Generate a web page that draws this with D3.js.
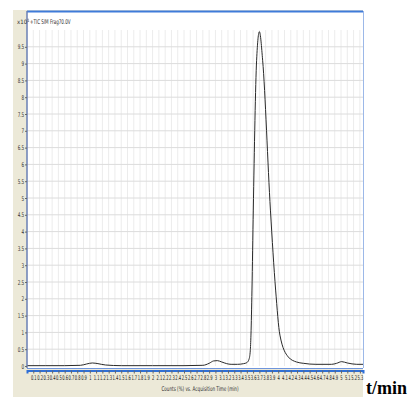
<!DOCTYPE html>
<html>
<head>
<meta charset="utf-8">
<script src="https://cdn.jsdelivr.net/npm/d3@7"></script>
<style>
  body { margin: 0; background: #fff; }
  svg { display: block; }
</style>
</head>
<body>
<div id="chart"></div>
<script>
// acquisition time (min) and counts (x10^1 %)
const times  = [0.0, 0.3, 0.6, 0.85, 0.95, 1.04, 1.13, 1.25, 1.5, 2.0, 2.5, 2.8, 2.9, 2.97, 3.03, 3.1, 3.18, 3.25, 3.35, 3.45, 3.5, 3.535, 3.555, 3.566, 3.582, 3.603, 3.656, 3.70, 3.752, 3.876, 3.959, 4.027, 4.16, 4.29, 4.4, 4.6, 4.85, 4.93, 5.01, 5.1, 5.25, 5.35];
const counts = [0.01, 0.01, 0.01, 0.02, 0.06, 0.09, 0.07, 0.03, 0.01, 0.01, 0.01, 0.02, 0.08, 0.15, 0.16, 0.12, 0.07, 0.05, 0.05, 0.07, 0.1, 0.2, 0.45, 0.92, 2.26, 4.64, 9.1, 9.95, 9.1, 4.64, 2.26, 0.92, 0.27, 0.12, 0.08, 0.05, 0.05, 0.08, 0.13, 0.09, 0.05, 0.05];
const xTicks = d3.range(1, 54).map(i => i / 10);
const yTicks = d3.range(0, 20).map(i => i / 2);

const width = 412, height = 399;
const plotLeft = 27, plotRight = 363, plotTop = 30, zeroY = 366;

const svg = d3.select('#chart').append('svg')
  .attr('width', width)
  .attr('height', height);

// window background
svg.append('rect').attr('x', 13).attr('y', 10).attr('width', 350).attr('height', 387).attr('fill', '#ece9d8');
svg.append('rect').attr('x', plotLeft).attr('y', 11).attr('width', plotRight - plotLeft).attr('height', 357).attr('fill', '#fff');

const x = d3.scaleLinear().domain([0, 5.35]).range([plotLeft, plotRight]);
const y = d3.scaleLinear().domain([0, 10]).range([zeroY, plotTop]);

// grid
svg.append('g').selectAll('line').data(xTicks).enter().append('line')
  .attr('x1', d => x(d)).attr('x2', d => x(d))
  .attr('y1', plotTop).attr('y2', zeroY)
  .attr('stroke', '#ececec');
svg.append('g').selectAll('line').data(yTicks.slice(1)).enter().append('line')
  .attr('x1', plotLeft).attr('x2', plotRight)
  .attr('y1', d => y(d)).attr('y2', d => y(d))
  .attr('stroke', '#dcdcdc');

// frame lines
svg.append('line').attr('x1', plotLeft).attr('x2', plotRight).attr('y1', 11.5).attr('y2', 11.5)
  .attr('stroke', '#3f7bd9').attr('stroke-width', 2);
svg.append('line').attr('x1', plotRight + 0.5).attr('x2', plotRight + 0.5).attr('y1', 11).attr('y2', 368)
  .attr('stroke', '#9cb8e8');
svg.append('line').attr('x1', plotLeft).attr('x2', plotRight).attr('y1', 368.5).attr('y2', 368.5)
  .attr('stroke', '#6f95dc');

// trace
const line = d3.line()
  .x((d, i) => x(times[i]))
  .y(d => y(d))
  .curve(d3.curveMonotoneX);

svg.append('path')
  .datum(counts)
  .attr('fill', 'none')
  .attr('stroke', '#2a2a2a')
  .attr('stroke-width', 1)
  .attr('d', line);

const small = '"Liberation Sans Narrow", "DejaVu Sans Condensed", sans-serif';

// x axis
const xAxis = svg.append('g')
  .attr('transform', 'translate(0,370.5)')
  .call(d3.axisBottom(x).tickValues(xTicks).tickSize(3).tickPadding(2).tickFormat(d3.format('~g')));
xAxis.select('.domain').attr('stroke', '#2f6fd6').attr('stroke-width', 2);
xAxis.selectAll('.tick line').attr('stroke', '#666');
xAxis.selectAll('text')
  .attr('transform', 'scale(0.62,1)')
  .style('font-family', small)
  .style('font-size', '6.5px')
  .style('fill', '#222');

// y axis
const yAxis = svg.append('g')
  .attr('transform', `translate(${plotLeft},0)`)
  .call(d3.axisLeft(y).tickValues(yTicks).tickSize(2).tickPadding(1).tickFormat(d3.format('~g')));
yAxis.select('.domain').attr('stroke', '#6a7fb5').attr('stroke-width', 1.5).attr('d', `M0,11V${zeroY + 2}`);
yAxis.selectAll('.tick line').attr('stroke', '#666');
yAxis.selectAll('text')
  .attr('transform', 'scale(0.7,1)')
  .attr('x', -4)
  .style('font-family', small)
  .style('font-size', '6.5px')
  .style('fill', '#333');

// titles
const unit = svg.append('text')
  .attr('x', 17).attr('y', 24)
  .style('font-family', small).style('font-size', '6px').style('fill', '#333');
unit.append('tspan').text('x10');
unit.append('tspan').attr('dy', -2).style('font-size', '4.5px').text('1');

svg.append('text')
  .attr('transform', 'translate(30,24) scale(0.7,1)')
  .style('font-family', small).style('font-size', '6.5px').style('fill', '#333')
  .text('+TIC SIM Frag70.0V');

svg.append('text')
  .attr('transform', 'translate(200,391) scale(0.7,1)')
  .attr('text-anchor', 'middle')
  .style('font-family', small).style('font-size', '6.5px').style('fill', '#333')
  .text('Counts (%) vs. Acquisition Time (min)');

svg.append('text')
  .attr('x', 366).attr('y', 394)
  .style('font-family', '"Liberation Serif", "Times New Roman", serif')
  .style('font-size', '18px')
  .style('font-weight', 'bold')
  .style('fill', '#000')
  .text('t/min');
</script>
</body>
</html>
